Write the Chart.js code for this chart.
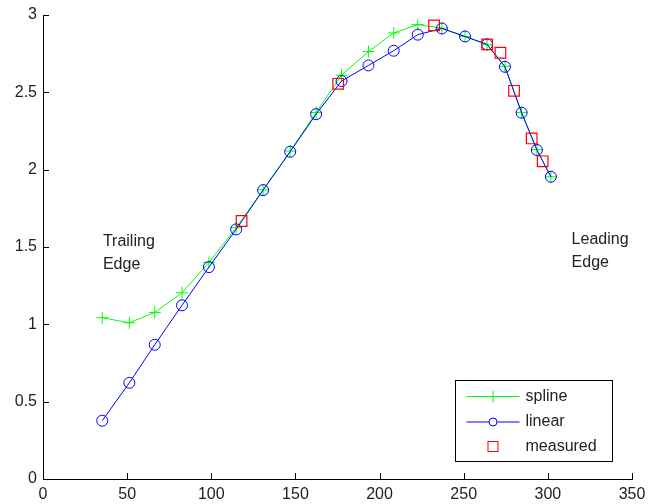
<!DOCTYPE html>
<html><head><meta charset="utf-8">
<script src="https://cdn.jsdelivr.net/npm/chart.js@4"></script>
<style>html,body{margin:0;padding:0;background:#fff;}</style>
</head><body>
<canvas id="c" width="649" height="504"></canvas>
<script>
const xPos = [35.2, 51.3, 66.4, 82.6, 98.6, 114.8, 130.8, 146.9, 162.3, 177.4, 193.4, 208.4, 222.7, 237.0, 250.8, 263.9, 274.5, 284.4, 293.5, 301.8];
const linearVals = [0.377, 0.622, 0.868, 1.123, 1.370, 1.614, 1.868, 2.116, 2.359, 2.573, 2.674, 2.769, 2.873, 2.913, 2.861, 2.810, 2.665, 2.368, 2.127, 1.954];
const splineVals = [1.043, 1.010, 1.077, 1.204, 1.400, 1.625, 1.870, 2.120, 2.370, 2.611, 2.764, 2.884, 2.938, 2.915, 2.861, 2.808, 2.668, 2.370, 2.130, 1.954];
const measuredX = [118.0, 175.4, 232.4, 263.9, 271.8, 279.9, 290.4, 296.9];
const measuredY = [1.668, 2.555, 2.933, 2.810, 2.756, 2.510, 2.202, 2.054];
const xTicks = [0, 50, 100, 150, 200, 250, 300, 350];
const yTicks = [0, 0.5, 1, 1.5, 2, 2.5, 3];
const seriesNames = ['spline', 'linear', 'measured'];
const notes = [
  {x: 35.6, y: 1.458, lines: ['Trailing', 'Edge']},
  {x: 314.1, y: 1.471, lines: ['Leading', 'Edge']}
];

const FONT = 'Arial, "Liberation Sans", sans-serif';
const FSIZE = 16;
const GREEN = '#00ff00', BLUE = '#0000ff', RED = '#ff0000';

const pts = (xs, ys) => xs.map((x, i) => ({x, y: ys[i]}));

const extras = {
  id: 'extras',
  afterDatasetsDraw(chart) {
    const ctx = chart.ctx, xs = chart.scales.x, ys = chart.scales.y, ca = chart.chartArea;
    ctx.save();
    // inward ticks
    ctx.strokeStyle = '#000'; ctx.lineWidth = 1;
    ctx.beginPath();
    xTicks.forEach(v => {
      const px = Math.round(xs.getPixelForValue(v)) + 0.5;
      ctx.moveTo(px, ca.bottom); ctx.lineTo(px, ca.bottom - 6);
    });
    yTicks.forEach(v => {
      const py = Math.round(ys.getPixelForValue(v)) + 0.5;
      ctx.moveTo(ca.left, py); ctx.lineTo(ca.left + 6, py);
    });
    ctx.stroke();
    // annotations
    ctx.fillStyle = '#222';
    ctx.font = FSIZE + 'px ' + FONT;
    ctx.textAlign = 'left'; ctx.textBaseline = 'middle';
    notes.forEach(n => {
      const px = xs.getPixelForValue(n.x), py = ys.getPixelForValue(n.y);
      const lh = 23, n0 = (n.lines.length - 1) / 2;
      n.lines.forEach((t, i) => ctx.fillText(t, px, py + (i - n0) * lh));
    });
    // legend
    const bx = ca.right - 176.5, by = ca.bottom - 98.5, bw = 157, bh = 81;
    ctx.fillStyle = '#fff';
    ctx.fillRect(bx, by, bw, bh);
    ctx.strokeStyle = '#000'; ctx.lineWidth = 1;
    ctx.strokeRect(bx, by, bw, bh);
    const rows = [by + 16, by + 41.5, by + 66];
    const lx0 = bx + 11, lx1 = bx + 64, mx = bx + 37.5;
    // spline
    ctx.strokeStyle = GREEN;
    ctx.beginPath();
    ctx.moveTo(lx0, rows[0]); ctx.lineTo(lx1, rows[0]);
    ctx.moveTo(mx, rows[0] - 6); ctx.lineTo(mx, rows[0] + 6);
    ctx.stroke();
    // linear
    ctx.strokeStyle = BLUE;
    ctx.beginPath();
    ctx.moveTo(lx0, rows[1]); ctx.lineTo(mx - 4, rows[1]);
    ctx.moveTo(mx + 4, rows[1]); ctx.lineTo(lx1, rows[1]);
    ctx.stroke();
    ctx.beginPath(); ctx.arc(mx, rows[1], 4, 0, Math.PI * 2); ctx.stroke();
    // measured
    ctx.strokeStyle = RED;
    ctx.strokeRect(mx - 5, rows[2] - 5, 10, 10);
    ctx.fillStyle = '#222';
    ctx.font = FSIZE + 'px ' + FONT;
    seriesNames.forEach((s, i) => ctx.fillText(s, bx + 70, rows[i]));
    ctx.restore();
  }
};

new Chart(document.getElementById('c'), {
  type: 'scatter',
  data: {
    datasets: [
      {label: seriesNames[0], data: pts(xPos, splineVals), showLine: true, borderColor: GREEN, borderWidth: 1,
       pointStyle: 'cross', pointRadius: 6, pointBorderColor: GREEN, pointBorderWidth: 1, pointBackgroundColor: 'transparent', order: 3},
      {label: seriesNames[1], data: pts(xPos, linearVals), showLine: true, borderColor: BLUE, borderWidth: 1,
       pointStyle: 'circle', pointRadius: 5.5, pointBorderColor: BLUE, pointBorderWidth: 1, pointBackgroundColor: 'transparent', order: 2},
      {label: seriesNames[2], data: pts(measuredX, measuredY), showLine: false,
       pointStyle: 'rect', pointRadius: 7.5, pointBorderColor: RED, pointBorderWidth: 1.2, pointBackgroundColor: 'transparent', order: 1}
    ]
  },
  options: {
    responsive: false, animation: false,
    layout: {padding: {left: 0, right: 17, top: 15, bottom: 0}},
    plugins: {legend: {display: false}, tooltip: {enabled: false}},
    elements: {line: {tension: 0}},
    scales: {
      x: {
        type: 'linear', min: 0, max: 350,
        afterBuildTicks: s => { s.ticks = xTicks.map(v => ({value: v})); },
        afterFit: s => { s.height = 25; s.paddingRight = 0; s.paddingLeft = 0; },
        grid: {display: false, drawTicks: false},
        border: {display: true, color: '#000', width: 1},
        ticks: {color: '#222', font: {family: FONT, size: FSIZE}, padding: 6, maxRotation: 0, autoSkip: false,
                callback: v => String(v)}
      },
      y: {
        type: 'linear', min: 0, max: 3,
        afterBuildTicks: s => { s.ticks = yTicks.map(v => ({value: v})); },
        afterFit: s => { s.width = 43; s.paddingTop = 0; s.paddingBottom = 0; },
        grid: {display: false, drawTicks: false},
        border: {display: true, color: '#000', width: 1},
        ticks: {color: '#222', font: {family: FONT, size: FSIZE}, padding: 6, autoSkip: false,
                callback: v => String(v)}
      }
    }
  },
  plugins: [extras]
});
</script>
</body></html>
